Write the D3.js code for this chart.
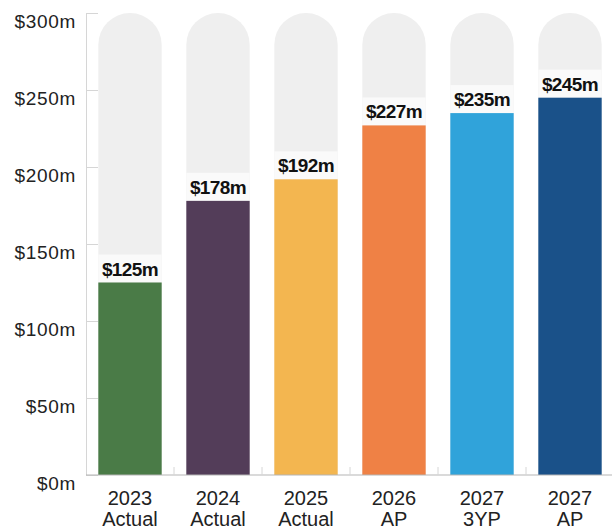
<!DOCTYPE html>
<html>
<head>
<meta charset="utf-8">
<script src="https://cdn.jsdelivr.net/npm/d3@7"></script>
<style>
  body { margin: 0; background: #fff; }
  svg { display: block; }
</style>
</head>
<body>
<div id="chart"></div>
<script>
const width = 612;
const height = 529;

// values
const years = ["2023", "2024", "2025", "2026", "2027", "2027"];
const kinds = ["Actual", "Actual", "Actual", "AP", "3YP", "AP"];
const values = [125, 178, 192, 227, 235, 245];
const colors = ["#4a7b47", "#533d59", "#f3b650", "#ef8145", "#30a3da", "#1a5189"];
const yTicks = [0, 50, 100, 150, 200, 250, 300];

const margin = {top: 13, right: -2, bottom: 54, left: 86};

var svg = d3.select("#chart")
    .append("svg")
    .attr("width", width)
    .attr("height", height)

const x = d3.scaleBand()
    .domain(d3.range(values.length))
    .range([margin.left, width - margin.right])
    .paddingInner(0.28)
    .paddingOuter(0.14);

const y = d3.scaleLinear()
    .domain([0, 300])
    .range([height - margin.bottom, margin.top]);

// y axis: thin line, short ticks, labels pushed a little below the tick
const yAxis = d3.axisRight(y)
    .tickValues(yTicks)
    .tickSize(12)
    .tickFormat(d => "$" + d + "m");

const gy = svg.append("g")
    .attr("transform", `translate(${margin.left},0)`)
    .call(yAxis);
gy.select(".domain").attr("stroke", "#d6d6d6");
gy.selectAll(".tick line").attr("stroke", "#d6d6d6");
gy.selectAll(".tick text")
    .attr("x", -10)
    .attr("dy", "0.78em")
    .attr("text-anchor", "end")
    .attr("fill", "#222")
    .style("font-family", "Liberation Sans, Arial, sans-serif")
    .style("font-size", "19px")
    .style("letter-spacing", "0.7px");

// background capsules
const r = x.bandwidth() / 2;
svg.append("g")
    .selectAll("path")
    .data(values)
    .join("path")
    .attr("fill", "#efefef")
    .attr("d", (d, i) => {
        const x0 = x(i), x1 = x(i) + x.bandwidth();
        const top = y(300), bot = y(0);
        return `M${x0},${bot} L${x0},${top + r} A${r},${r} 0 0 1 ${x1},${top + r} L${x1},${bot} Z`;
    });

// whiter band behind the value labels
svg.append("g")
    .selectAll("rect")
    .data(values)
    .join("rect")
    .attr("x", (d, i) => x(i))
    .attr("width", x.bandwidth())
    .attr("y", d => y(d) - 28)
    .attr("height", 28)
    .attr("fill", "#fafafa");

// bars
svg.append("g")
    .selectAll("rect")
    .data(values)
    .join("rect")
    .attr("x", (d, i) => x(i))
    .attr("width", x.bandwidth())
    .attr("y", d => y(d))
    .attr("height", d => y(0) - y(d))
    .attr("fill", (d, i) => colors[i]);

// value labels
svg.append("g")
    .selectAll("text")
    .data(values)
    .join("text")
    .attr("x", (d, i) => x(i) + x.bandwidth() / 2)
    .attr("y", d => y(d) - 7)
    .attr("text-anchor", "middle")
    .attr("fill", "#111")
    .style("font-family", "Liberation Sans, Arial, sans-serif")
    .style("font-weight", "bold")
    .style("font-size", "19px")
    .style("letter-spacing", "-0.6px")
    .text(d => "$" + d + "m");

// baseline with small ticks between categories
const base = y(0);
svg.append("line")
    .attr("x1", margin.left).attr("x2", width)
    .attr("y1", base).attr("y2", base)
    .attr("stroke", "#b5b5b5");

const step = x.step();
svg.append("g")
    .selectAll("line")
    .data(d3.range(1, values.length))
    .join("line")
    .attr("x1", i => x(i) - (step - x.bandwidth()) / 2)
    .attr("x2", i => x(i) - (step - x.bandwidth()) / 2)
    .attr("y1", base - 8).attr("y2", base)
    .attr("stroke", "#d6d6d6");

// category labels, two lines
const cat = svg.append("g")
    .selectAll("text")
    .data(values)
    .join("text")
    .attr("text-anchor", "middle")
    .attr("fill", "#222")
    .style("font-family", "Liberation Sans, Arial, sans-serif")
    .style("font-size", "20px");

cat.append("tspan")
    .attr("x", (d, i) => x(i) + x.bandwidth() / 2)
    .attr("y", base + 30)
    .text((d, i) => years[i]);
cat.append("tspan")
    .attr("x", (d, i) => x(i) + x.bandwidth() / 2)
    .attr("y", base + 51)
    .text((d, i) => kinds[i]);
</script>
</body>
</html>
